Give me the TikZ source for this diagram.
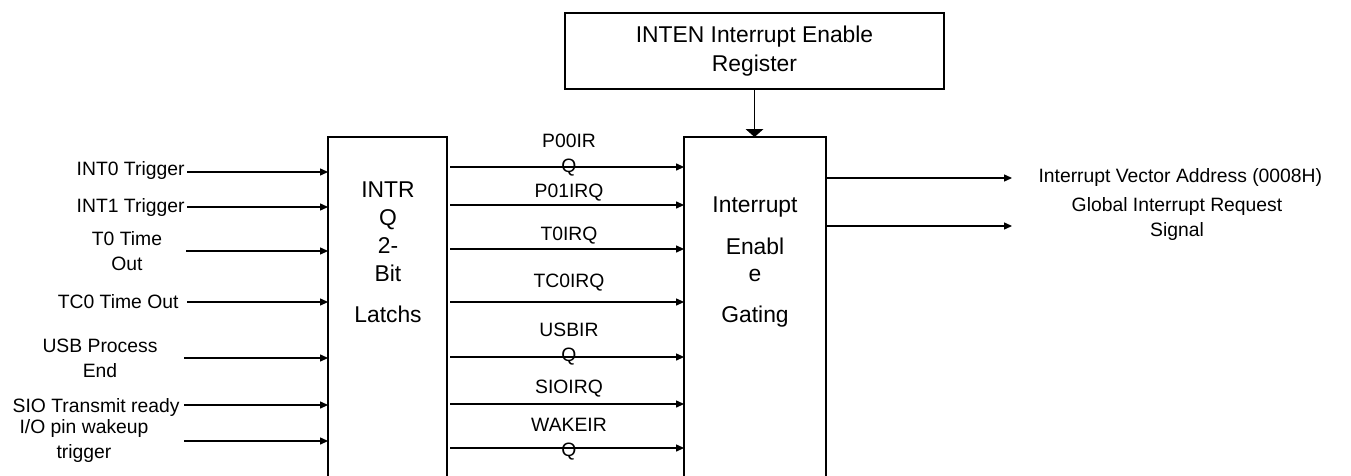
\documentclass[tikz,border=0pt]{standalone}
\usepackage{fontspec}
\setmainfont{Liberation Sans}
\usetikzlibrary{arrows.meta}

\begin{document}
\begin{tikzpicture}[x=0.02cm,y=-0.02cm,->,>={Triangle[length=4.5pt,width=4pt]},line width=0.6pt,
        txt/.style={font=\fontsize{11}{14.2}\selectfont,align=center,inner sep=0pt},
        boxtxt/.style={font=\fontsize{13}{15.9}\selectfont,align=center,inner sep=0pt},
        blk/.style={inner sep=0pt,outer sep=0pt,minimum height=6.78cm},
        side/.style={-,line width=0.8pt}]
        \useasboundingbox (0,0) rectangle (1351,476);
        % blocks
        \node[draw,side,boxtxt,minimum width=7.58cm,minimum height=1.52cm,font=\fontsize{13}{16.4}\selectfont] (inten) at (754.5,51) {INTEN Interrupt Enable\\Register};
        \node[blk,minimum width=2.38cm] (latch) at (387.5,306.5) {};
        \node[blk,minimum width=2.84cm] (gate) at (755,306.5) {};
        \draw[side] (latch.south west) -- (latch.north west) -- (latch.north east) -- (latch.south east);
        \draw[side] (gate.south west) -- (gate.north west) -- (gate.north east) -- (gate.south east);
        \node[boxtxt] (latchtxt) at (388,252) {INTR\\Q\\2-\\Bit\\[7.4pt]Latchs};
        \node[boxtxt] (gatetxt) at (755,262) {Interrupt\\[8pt]Enabl\\e\\[7.4pt]Gating};
        \draw[>={Triangle[length=4.5pt,width=10pt]}] (inten.south) -- (inten.south |- gate.north);
        % inputs
        \node[txt,anchor=base east] (int0) at (185,175) {INT0 Trigger};
        \node[txt,anchor=base east] (int1) at (185,213) {INT1 Trigger};
        \node[txt] (t0) at (127,251) {T0 Time\\Out};
        \node[txt,anchor=base east] (tc0) at (179,308) {TC0 Time Out};
        \node[txt] (usb) at (100,358) {USB Process\\End};
        \node[txt,anchor=base east] (sio) at (180,412) {SIO Transmit ready};
        \node[txt] (wake) at (84,441) {I/O pin wakeup\\trigger};
        \coordinate (i0) at (187,172);
        \coordinate (i1) at (187,207);
        \coordinate (i2) at (186,251);
        \coordinate (i3) at (187,302);
        \coordinate (i4) at (184,358);
        \coordinate (i5) at (184,405);
        \coordinate (i6) at (184,441);
        \draw (i0) -- (i0 -| latch.west);
        \draw (i1) -- (i1 -| latch.west);
        \draw (i2) -- (i2 -| latch.west);
        \draw (i3) -- (i3 -| latch.west);
        \draw (i4) -- (i4 -| latch.west);
        \draw (i5) -- (i5 -| latch.west);
        \draw (i6) -- (i6 -| latch.west);
        % latch outputs
        \node[txt] (p00) at (569,155) {P00IR\\Q};
        \node[txt] (p01) at (569,193) {P01IRQ};
        \node[txt] (t0irq) at (569,236) {T0IRQ};
        \node[txt] (tc0irq) at (569,283) {TC0IRQ};
        \node[txt] (usbirq) at (569,344) {USBIR\\Q};
        \node[txt] (sioirq) at (569,389) {SIOIRQ};
        \node[txt] (wakeirq) at (569,439) {WAKEIR\\Q};
        \coordinate (q0) at (450,167);
        \coordinate (q1) at (450,205);
        \coordinate (q2) at (450,249);
        \coordinate (q3) at (450,302);
        \coordinate (q4) at (450,357);
        \coordinate (q5) at (450,404);
        \coordinate (q6) at (450,448);
        \draw (q0) -- (q0 -| gate.west);
        \draw (q1) -- (q1 -| gate.west);
        \draw (q2) -- (q2 -| gate.west);
        \draw (q3) -- (q3 -| gate.west);
        \draw (q4) -- (q4 -| gate.west);
        \draw (q5) -- (q5 -| gate.west);
        \draw (q6) -- (q6 -| gate.west);
        % outputs
        \coordinate (vec) at (1012,178);
        \coordinate (gir) at (1012,226);
        \draw (gate.east |- vec) -- (vec);
        \draw (gate.east |- gir) -- (gir);
        \node[txt,anchor=west] (veclbl) at (1038,178) {Interrupt Vector Address (0008H)};
        \node[txt] (girlbl) at (1177,219) {Global Interrupt Request\\Signal};
\end{tikzpicture}
\end{document}
